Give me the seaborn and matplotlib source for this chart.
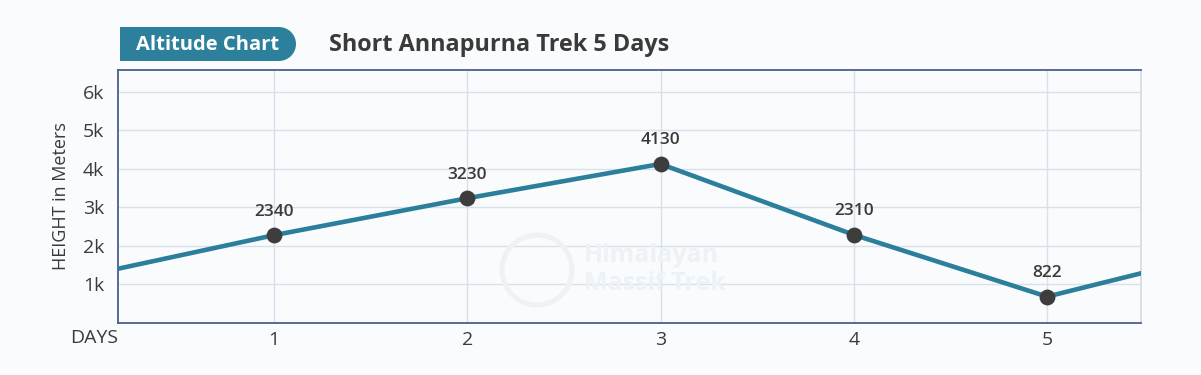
import matplotlib
matplotlib.use("Agg")
import matplotlib.pyplot as plt
import matplotlib.patches as mpatches
import seaborn as sns
import pandas as pd

# ---- data ----
days = [0, 1, 2, 3, 4, 5, 6]                      # line runs beyond the visible days
plotted_heights = [1190, 2270, 3230, 4120, 2280, 675, 1920]
marker_days = [1, 2, 3, 4, 5]
marker_heights = [2270, 3230, 4120, 2280, 675]
altitude_labels = ["2340", "3230", "4130", "2310", "822"]
x_tick_labels = ["1", "2", "3", "4", "5"]
y_ticks = [1000, 2000, 3000, 4000, 5000, 6000]
y_tick_labels = ["1k", "2k", "3k", "4k", "5k", "6k"]

BG = "#f9fbfd"
LINE = "#2b7f9b"
DOT = "#3d3d3d"
SPINE = "#4a5f8a"
GRID = "#d6e1ea"
TEXT = "#3a3a3a"
WM = "#edf2f6"

sns.set_theme(style="white")
plt.rcParams["font.family"] = ["Open Sans", "DejaVu Sans"]

fig = plt.figure(figsize=(12.01, 3.75), dpi=100, facecolor=BG)
ax = fig.add_axes([118 / 1201, 1 - 322.6 / 375, (1141 - 118) / 1201, (322.6 - 70) / 375])
ax.set_facecolor(BG)

line_df = pd.DataFrame({"day": days, "height": plotted_heights})
pts_df = pd.DataFrame({"day": marker_days, "height": marker_heights})

sns.lineplot(data=line_df, x="day", y="height", ax=ax, color=LINE, linewidth=3.3, zorder=3)
sns.scatterplot(data=pts_df, x="day", y="height", ax=ax, color=DOT, s=130,
                edgecolor=DOT, linewidth=0, zorder=4)

for d, h, lab in zip(marker_days, marker_heights, altitude_labels):
    ax.annotate(lab, (d, h), xytext=(0, 17), textcoords="offset points",
                ha="center", va="center", fontsize=12.5, fontweight="semibold",
                color=TEXT, zorder=5)

ax.set_xlim(0.193, 5.486)
ax.set_ylim(0, 6560)
ax.set_xticks(marker_days)
ax.set_xticklabels(x_tick_labels)
ax.set_yticks(y_ticks)
ax.set_yticklabels(y_tick_labels)
ax.tick_params(axis="both", length=0, labelsize=14, colors=TEXT)
ax.tick_params(axis="x", pad=6)
ax.tick_params(axis="y", pad=10)
ax.set_xlabel("")
ax.set_ylabel("HEIGHT in Meters", fontsize=13, color=TEXT, labelpad=9)

ax.grid(True, color=GRID, linewidth=1.0)
ax.set_axisbelow(True)
for side in ["left", "top", "bottom"]:
    ax.spines[side].set_color(SPINE)
    ax.spines[side].set_linewidth(1.3)
ax.spines["right"].set_color("#d5dde5")
ax.spines["right"].set_linewidth(1.3)

# "DAYS" axis caption at left, aligned with x tick labels
ax.text(0.0, -15.5 / 252.6, "DAYS", transform=ax.transAxes, ha="right", va="center",
        fontsize=14, color=TEXT)

# watermark
fig.text(584 / 1201, 1 - 256 / 375, "Himalayan", fontsize=18, fontweight="bold",
         color=WM, ha="left", va="center", zorder=0)
fig.text(584 / 1201, 1 - 283 / 375, "Massif Trek", fontsize=18, fontweight="bold",
         color=WM, ha="left", va="center", zorder=0)
fig.patches.append(mpatches.Ellipse((537 / 1201, 1 - 270 / 375), 70 / 1201, 70 / 375,
                                    transform=fig.transFigure, facecolor="none",
                                    edgecolor=WM, linewidth=3.5, zorder=0))

# header pill
pill_color = "#2c809c"
fig.patches.append(mpatches.Rectangle((120 / 1201, 1 - 61 / 375), (279 - 120) / 1201, 34 / 375,
                                      transform=fig.transFigure, facecolor=pill_color,
                                      edgecolor="none"))
fig.patches.append(mpatches.Ellipse((279 / 1201, 1 - 44 / 375), 34 / 1201, 34 / 375,
                                    transform=fig.transFigure, facecolor=pill_color,
                                    edgecolor="none"))
fig.text(208 / 1201, 1 - 45 / 375, "Altitude Chart", fontsize=14.5, fontweight="bold",
         color="white", ha="center", va="center")
fig.text(329 / 1201, 1 - 45 / 375, "Short Annapurna Trek 5 Days", fontsize=16.8,
         fontweight="bold", color=TEXT, ha="left", va="center")

fig.savefig("out.png", dpi=100, facecolor=BG)
